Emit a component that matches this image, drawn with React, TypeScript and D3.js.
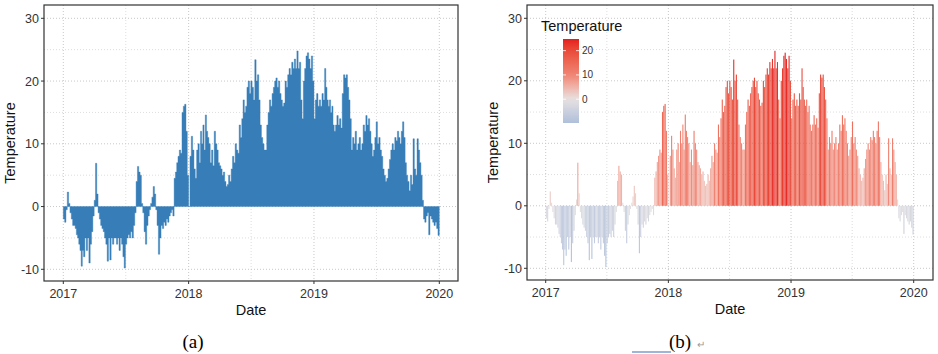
import React from 'react';
import * as d3 from 'd3';

// ~8 readings per month, Jan..Dec
const temps2017 = [
  -2, -2.5, -0.5, 2.3, 0.5, -1, -2, -3,
  -3, -3.5, -4.5, -5, -6, -7, -9.5, -7,
  -8, -5, -7, -5, -9, -6, -4, -1.5,
  1, 6.9, 2, -1, -2, -3, -3.5, -4,
  -5, -6, -8.7, -5, -8.5, -5, -6, -5,
  -5, -6, -5, -7, -5, -6, -8, -9.8,
  -6, -5, -4.5, -5, -4, -5, -3, -1,
  4, 6.4, 5.5, 5, 0.5, -1, -4, -6,
  -3, -1.5, -0.5, 0.5, 1.5, 3.2, 2, -0.5,
  -3, -7.6, -5, -3, -3.5, -2.5, -3, -2,
  -2.5, -1.5, -1, -0.5, -1.5, 4.5, 5.5, 7,
  8, 9, 8.5, 15, 16, 16.3, 12, 5,
];
const temps2018 = [
  0, 8, 11.2, 9, 6, 4.5, 9, 10,
  7, 12, 10, 13, 9, 14.6, 12, 11,
  10, 7, 9, 6.5, 12, 10, 9, 7,
  6.5, 6, 5, 5.5, 4, 3.2, 3.5, 5,
  4, 6, 8, 7, 10, 9, 8.5, 13,
  11, 14, 17, 15, 16, 19, 20, 18,
  20, 19, 17, 23.4, 20, 21, 17, 13,
  11, 10, 9, 9, 13, 15, 17, 16,
  18, 19, 20, 20.5, 19, 20, 18, 17,
  16, 16.5, 20, 19, 21, 22, 21, 23,
  22, 23.5, 22, 24.8, 22, 23, 17, 14,
  20, 22, 24, 24.5, 23.5, 22, 24, 20,
];
const temps2019 = [
  14, 17, 18, 16, 17, 16, 18, 17,
  22, 19, 17, 16, 17, 15, 16, 13,
  12, 13, 14.5, 13, 14, 12.5, 18, 21,
  20.5, 21, 19, 17, 14, 9, 11, 10,
  12, 9, 10, 11, 9, 10, 13, 12,
  14.5, 13, 14, 12, 10, 8, 9, 11,
  13.5, 10, 11, 9, 8, 6, 5, 4,
  4.5, 6, 7.5, 9, 10, 9, 11, 10.5,
  12, 11, 10, 12, 13.5, 11, 7, 5,
  4, 2.5, 5, 3.5, 10.8, 6, 5, 10.8,
  9, 7, 5, 1, -2, -2.5, -1.5, -1,
  -4.5, -1.5, -2, -2.5, -3, -2.5, -3.5, -4.6,
];
const years = [2017, 2018, 2019];
const yearTicks = [2017, 2018, 2019, 2020];
const tempTicks = [-10, 0, 10, 20, 30];
const legendTicks = [0, 10, 20];
const fillStops = [-10, 0, 10, 25];
const fillColors = ['#aebfda', '#e6e1e1', '#ef8474', '#e41a1c'];

const perMonth = 8;

type Pt = { start: Date; end: Date; value: number };

const points: Pt[] = [];
[temps2017, temps2018, temps2019].forEach((arr, yi) => {
  arr.forEach((v, i) => {
    const m = Math.floor(i / perMonth);
    const k = i % perMonth;
    const ms = new Date(years[yi], m, 1).getTime();
    const me = new Date(years[yi], m + 1, 1).getTime();
    const step = (me - ms) / perMonth;
    points.push({ start: new Date(ms + k * step), end: new Date(ms + (k + 1) * step), value: v });
  });
});

const font = '"Liberation Sans", Arial, sans-serif';
const serif = '"Liberation Serif", "Times New Roman", serif';

const fillScale = d3.scaleLinear<string>().domain(fillStops).range(fillColors).interpolate(d3.interpolateLab);

function Panel(props: { left: number; right: number; bottom: number; x0: number; x1: number; y30: number; yM10: number; gradient: boolean }) {
  const { left, right, bottom, x0, x1, y30, yM10, gradient } = props;
  const top = 5;
  const x = d3.scaleTime().domain([new Date(2017, 0, 1), new Date(2020, 0, 1)]).range([x0, x1]);
  const y = d3.scaleLinear().domain([30, -10]).range([y30, yM10]);

  const majorX = yearTicks.map((yr) => x(new Date(yr, 0, 1)));
  const minorX = years.map((yr) => x(new Date(yr, 6, 2)));
  const minorY = [-5, 5, 15, 25].map((v) => y(v));
  const midY = (top + bottom) / 2;

  // solid step area for the plain panel
  const stepData = points.map((p) => ({ t: p.start, v: p.value }));
  const last = points[points.length - 1];
  stepData.push({ t: last.end, v: last.value });
  const area = d3
    .area<{ t: Date; v: number }>()
    .x((d) => x(d.t))
    .y0(y(0))
    .y1((d) => y(d.v))
    .curve(d3.curveStepAfter);

  return (
    <g>
      {minorX.map((px, i) => (
        <line key={'mx' + i} x1={px} x2={px} y1={top} y2={bottom} stroke="#d4d4d4" strokeWidth={0.8} strokeDasharray="1,2" />
      ))}
      {minorY.map((py, i) => (
        <line key={'my' + i} x1={left} x2={right} y1={py} y2={py} stroke="#d4d4d4" strokeWidth={0.8} strokeDasharray="1,2" />
      ))}
      {majorX.map((px, i) => (
        <line key={'gx' + i} x1={px} x2={px} y1={top} y2={bottom} stroke="#c8c8c8" strokeWidth={1} strokeDasharray="1,2" />
      ))}
      {tempTicks.map((v) => (
        <line key={'gy' + v} x1={left} x2={right} y1={y(v)} y2={y(v)} stroke="#c8c8c8" strokeWidth={1} strokeDasharray="1,2" />
      ))}

      {gradient ? (
        points.map((p, i) => {
          const xs = x(p.start);
          const w = x(p.end) - xs;
          const y0 = y(0);
          const yv = y(p.value);
          return (
            <rect key={i} x={xs + w * 0.08} width={w * 0.84} y={Math.min(y0, yv)} height={Math.abs(yv - y0)} fill={fillScale(p.value)} />
          );
        })
      ) : (
        <path d={area(stepData) || ''} fill="#377eb8" stroke="#377eb8" strokeWidth={0.4} />
      )}

      <rect x={left} y={top} width={right - left} height={bottom - top} fill="none" stroke="#333" strokeWidth={1.2} />

      {tempTicks.map((v) => (
        <g key={'ty' + v}>
          <line x1={left - 3} x2={left} y1={y(v)} y2={y(v)} stroke="#333" />
          <text x={left - 5} y={y(v) + 4.5} textAnchor="end" fontSize={12.5} fill="#333" fontFamily={font}>
            {v}
          </text>
        </g>
      ))}
      {yearTicks.map((yr, i) => (
        <g key={'tx' + yr}>
          <line x1={majorX[i]} x2={majorX[i]} y1={bottom} y2={bottom + 3} stroke="#333" />
          <text x={majorX[i]} y={bottom + 17} textAnchor="middle" fontSize={12.5} fill="#333" fontFamily={font}>
            {yr}
          </text>
        </g>
      ))}
      <text x={(left + right) / 2} y={bottom + 34} textAnchor="middle" fontSize={14.5} fill="#111" fontFamily={font}>
        Date
      </text>
      <text transform={`translate(${left - 29},${midY}) rotate(-90)`} textAnchor="middle" fontSize={14.5} fill="#111" fontFamily={font}>
        Temperature
      </text>
    </g>
  );
}

function Legend() {
  const barX = 563;
  const barW = 16;
  const ext = d3.extent(points, (p) => p.value) as [number, number];
  const ly = d3.scaleLinear().domain([ext[0], ext[1]]).range([123, 39]);
  const stops = d3.range(0, 1.0001, 0.05);
  return (
    <g>
      <defs>
        <linearGradient id="tempGrad" x1="0" y1="1" x2="0" y2="0">
          {stops.map((s) => (
            <stop key={s} offset={s} stopColor={fillScale(ext[0] + s * (ext[1] - ext[0]))} />
          ))}
        </linearGradient>
      </defs>
      <text x={541} y={31} fontSize={14.5} fill="#111" fontFamily={font}>
        Temperature
      </text>
      <rect x={barX} y={39} width={barW} height={84} fill="url(#tempGrad)" />
      {legendTicks.map((v) => (
        <g key={v}>
          <line x1={barX} x2={barX + 3} y1={ly(v)} y2={ly(v)} stroke="#fff" strokeWidth={0.8} />
          <line x1={barX + barW - 3} x2={barX + barW} y1={ly(v)} y2={ly(v)} stroke="#fff" strokeWidth={0.8} />
          <text x={barX + barW + 3} y={ly(v) + 3.5} fontSize={10} fill="#333" fontFamily={font}>
            {v}
          </text>
        </g>
      ))}
    </g>
  );
}

export default function App() {
  return (
    <svg width={938} height={354} style={{ position: 'absolute', left: 0, top: 0, background: '#fff' }}>
      <Panel left={44} right={458} bottom={281} x0={63.3} x1={439.3} y30={18.3} yM10={269.3} gradient={false} />
      <Panel left={527} right={933} bottom={280} x0={545.7} x1={913.7} y30={18.3} yM10={268.3} gradient={true} />
      <Legend />
      <text x={193} y={348} textAnchor="middle" fontSize={19} fill="#000" fontFamily={serif}>
        (a)
      </text>
      <line x1={632} x2={671} y1={352} y2={352} stroke="#3b6fb6" strokeWidth={1.2} />
      <text x={680} y={348} textAnchor="middle" fontSize={19} fill="#000" fontFamily={serif}>
        (b)
      </text>
      <text x={697} y={348} fontSize={10} fill="#999" fontFamily={font}>
        ↵
      </text>
    </svg>
  );
}
